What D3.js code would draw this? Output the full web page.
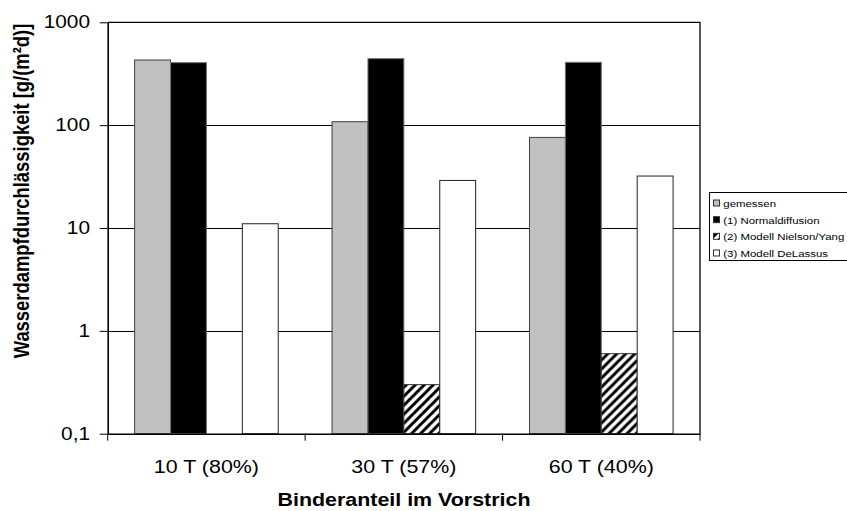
<!DOCTYPE html>
<html>
<head>
<meta charset="utf-8">
<script src="https://cdn.jsdelivr.net/npm/d3@7"></script>
<style>
  html, body { margin: 0; padding: 0; background: #fff; }
  svg { display: block; }
  text { font-family: "Liberation Sans", Arial, sans-serif; fill: #000; }
</style>
</head>
<body>
<svg id="chart" width="847" height="511"></svg>
<script>
// Binder content in the primer coat
const categories = ["10 T (80%)", "30 T (57%)", "60 T (40%)"];

// Water vapour permeability, g/(m²d)
const gemessen      = [430, 108, 76];
const normaldiff    = [405, 443, 408];
const nielsonYang   = [null, 0.3, 0.6];
const delassus      = [11, 29, 32];

const seriesNames = [
  "gemessen",
  "(1) Normaldiffusion",
  "(2) Modell Nielson/Yang",
  "(3) Modell DeLassus"
];
const seriesValues = [gemessen, normaldiff, nielsonYang, delassus];

const yTicks = [0.1, 1, 10, 100, 1000];
const yTickLabels = ["0,1", "1", "10", "100", "1000"];

// text is drawn slightly widened horizontally
const SX = 1.19;

const svg = d3.select("#chart");
svg.append("rect").attr("width", 847).attr("height", 511).attr("fill", "#fff");

const defs = svg.append("defs");
const hatch = defs.append("pattern")
  .attr("id", "hatch")
  .attr("patternUnits", "userSpaceOnUse")
  .attr("width", 9).attr("height", 9);
hatch.append("rect").attr("width", 9).attr("height", 9).attr("fill", "#fff");
hatch.append("path")
  .attr("d", "M-2,2 L2,-2 M0,9 L9,0 M7,11 L11,7")
  .attr("stroke", "#000").attr("stroke-width", 3);

const plot = { left: 107.7, right: 700, top: 22.3, bottom: 433.7 };

const x = d3.scaleBand().domain(categories).range([plot.left, plot.right]).padding(0);
const xs = d3.scaleBand().domain(d3.range(seriesNames.length))
  .range([0, x.bandwidth()]).paddingInner(0).paddingOuter(0.75);
const y = d3.scaleLog().domain([0.1, 1000]).range([plot.bottom, plot.top]);

const fills = ["#c0c0c0", "#000", "url(#hatch)", "#fff"];
const strokes = ["#404040", "#707070", "#333", "#222"];

// horizontal gridlines
svg.append("g").selectAll("line")
  .data(yTicks.slice(1, -1))
  .join("line")
  .attr("x1", plot.left).attr("x2", plot.right)
  .attr("y1", d => Math.round(y(d)) + 0.5).attr("y2", d => Math.round(y(d)) + 0.5)
  .attr("stroke", "#000").attr("stroke-width", 1);

// plot frame (top and right)
svg.append("path")
  .attr("d", `M${plot.left},${plot.top} H${plot.right} V${plot.bottom}`)
  .attr("fill", "none").attr("stroke", "#000").attr("stroke-width", 1.3);

// bars
const groups = svg.append("g").selectAll("g")
  .data(categories)
  .join("g")
  .attr("transform", d => `translate(${x(d)},0)`);

groups.selectAll("rect")
  .data((c, ci) => seriesValues.map((vals, si) => ({ si, v: vals[ci] })).filter(d => d.v != null))
  .join("rect")
  .attr("x", d => xs(d.si))
  .attr("width", xs.bandwidth())
  .attr("y", d => y(d.v))
  .attr("height", d => y(0.1) - y(d.v))
  .attr("fill", d => fills[d.si])
  .attr("stroke", d => strokes[d.si])
  .attr("stroke-width", 1);

// y axis
const yAxis = svg.append("g").attr("transform", `translate(${plot.left},0)`)
  .call(d3.axisLeft(y).tickValues(yTicks).tickFormat(() => "").tickSize(8).tickSizeOuter(0));
yAxis.select(".domain").attr("stroke", "#000").attr("stroke-width", 1.6);
yAxis.selectAll(".tick line").attr("stroke", "#000");

svg.append("g").selectAll("text")
  .data(yTicks)
  .join("text")
  .attr("transform", d => `translate(90,${y(d)}) scale(${SX},1)`)
  .attr("text-anchor", "end")
  .attr("dominant-baseline", "central")
  .attr("font-size", 17.5)
  .text((d, i) => yTickLabels[i]);

// x axis
const xAxis = svg.append("g").attr("transform", `translate(0,${plot.bottom})`)
  .call(d3.axisBottom(x).tickFormat("").tickSize(0).tickSizeOuter(0));
xAxis.select(".domain").attr("stroke", "#000").attr("stroke-width", 1.6);
xAxis.selectAll(".tick").remove();

const boundaries = categories.map(c => x(c)).concat([plot.right]);
svg.append("g").selectAll("line")
  .data(boundaries)
  .join("line")
  .attr("x1", d => d).attr("x2", d => d)
  .attr("y1", plot.bottom).attr("y2", plot.bottom + 7)
  .attr("stroke", "#000").attr("stroke-width", 1);

svg.append("g").selectAll("text")
  .data(categories)
  .join("text")
  .attr("transform", d => `translate(${x(d) + x.bandwidth() / 2},473) scale(${SX},1)`)
  .attr("text-anchor", "middle")
  .attr("font-size", 18)
  .text(d => d);

// axis titles
svg.append("text")
  .attr("transform", `translate(404,506) scale(${SX},1)`)
  .attr("text-anchor", "middle")
  .attr("font-size", 18)
  .attr("font-weight", "bold")
  .text("Binderanteil im Vorstrich");

svg.append("text")
  .attr("transform", `translate(29,191) scale(${SX},1) rotate(-90)`)
  .attr("text-anchor", "middle")
  .attr("font-size", 18.4)
  .attr("font-weight", "bold")
  .text("Wasserdampfdurchlässigkeit [g/(m²d)]");

// legend
const legend = svg.append("g");
legend.append("rect")
  .attr("x", 709.5).attr("y", 192.5).attr("width", 200).attr("height", 68)
  .attr("fill", "#fff").attr("stroke", "#000").attr("stroke-width", 1);

const rowY = d3.scalePoint().domain(d3.range(seriesNames.length)).range([203.5, 253.5]);
const items = legend.selectAll("g.item")
  .data(seriesNames)
  .join("g")
  .attr("class", "item")
  .attr("transform", (d, i) => `translate(713,${rowY(i)})`);

items.append("rect")
  .attr("x", 0.5).attr("y", -3.5).attr("width", 6).attr("height", 6)
  .attr("fill", (d, i) => fills[i])
  .attr("stroke", "#333").attr("stroke-width", 1);

items.append("text")
  .attr("transform", `translate(10.3,0) scale(${SX},1)`)
  .attr("dominant-baseline", "central")
  .attr("font-size", 9.6)
  .text(d => d);
</script>
</body>
</html>
